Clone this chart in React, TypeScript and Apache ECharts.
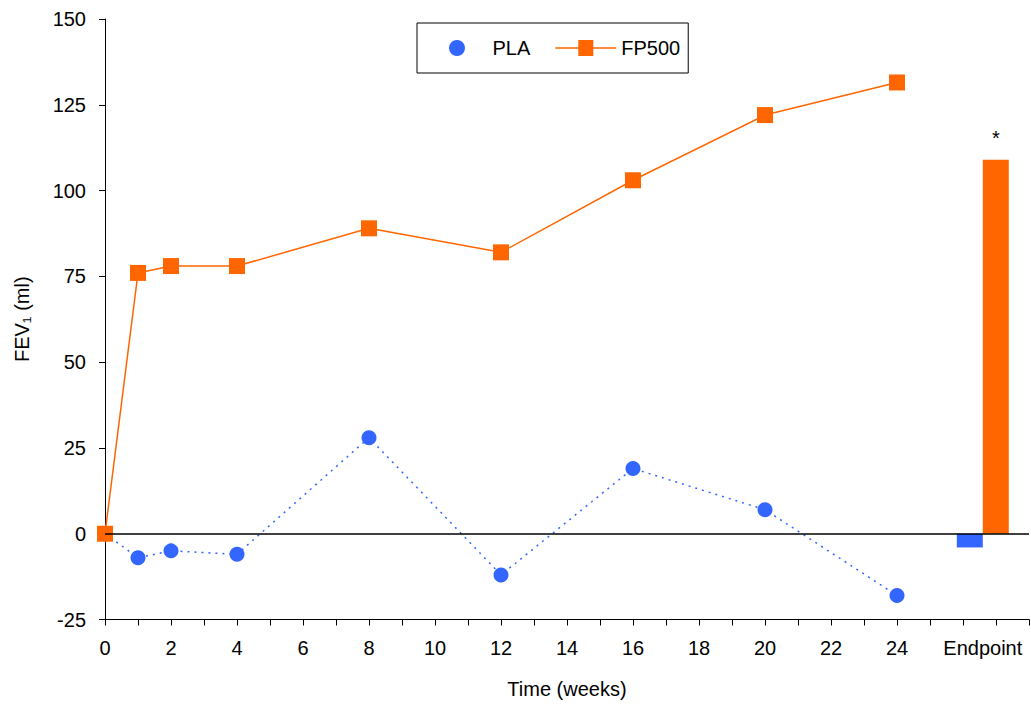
import React, { useEffect, useRef } from "react";
import * as echarts from "echarts";

const WEEKS = [0, 1, 2, 4, 8, 12, 16, 20, 24];
const PLA = [0, -7, -5, -6, 28, -12, 19, 7, -18];
const FP500 = [0, 76, 78, 78, 89, 82, 103, 122, 131.5];
const ENDPOINT_PLA = -4;
const ENDPOINT_FP500 = 109;
const ENDPOINT_MARK = "*";
const X_LABELS = [0, 2, 4, 6, 8, 10, 12, 14, 16, 18, 20, 22, 24];
const ENDPOINT_LABEL = "Endpoint";
const ENDPOINT_X = 26.6;

const BLUE = "#3366FF";
const ORANGE = "#FF6600";
const FONT = "'Liberation Sans', Arial, sans-serif";

export default function App() {
  const ref = useRef<HTMLDivElement>(null);
  useEffect(() => {
    if (!ref.current) return;
    const chart = echarts.init(ref.current, undefined, { renderer: "svg" });
    const fs = 20;
    chart.setOption({
      animation: false,
      backgroundColor: "#ffffff",
      textStyle: { fontFamily: FONT, color: "#000" },
      grid: { left: 105, right: 2, top: 19, bottom: 84.5, containLabel: false, outerBoundsMode: "none" },
      legend: {
        left: 417,
        top: 23,
        orient: "horizontal",
        data: [
          { name: "PLA", icon: "circle" },
          { name: "FP500", icon: "path://M0,7.25L61,7.25L61,8.75L0,8.75Z M23,0L38,0L38,16L23,16Z" },
        ],
        itemWidth: 61,
        itemHeight: 16,
        itemGap: 25,
        padding: [15, 8, 15, 32],
        borderColor: "#000",
        borderWidth: 1,
        textStyle: { fontFamily: FONT, fontSize: fs, color: "#000" },
        selectedMode: false,
      },
      xAxis: {
        type: "value",
        min: 0,
        max: 28,
        interval: 1,
        name: "Time (weeks)",
        nameLocation: "middle",
        nameGap: 59,
        nameTextStyle: { fontFamily: FONT, fontSize: fs, color: "#000" },
        axisLine: { show: true, onZero: false, lineStyle: { color: "#000", width: 1 } },
        axisTick: { show: true, length: 6, lineStyle: { color: "#000" } },
        splitLine: { show: false },
        axisLabel: {
          customValues: [...X_LABELS, ENDPOINT_X],
          formatter: (v: number) => (Math.abs(v - ENDPOINT_X) < 1e-6 ? ENDPOINT_LABEL : String(v)),
          fontFamily: FONT,
          fontSize: fs,
          color: "#000",
          margin: 18,
        },
      },
      yAxis: {
        type: "value",
        min: -25,
        max: 150,
        interval: 25,
        name: "FEV\u2081 (ml)",
        nameLocation: "middle",
        nameGap: 73,
        nameTextStyle: { fontFamily: FONT, fontSize: fs, color: "#000" },
        axisLine: { show: true, onZero: false, lineStyle: { color: "#000", width: 1 } },
        axisTick: { show: true, length: 6, lineStyle: { color: "#000" } },
        splitLine: { show: false },
        axisLabel: { fontFamily: FONT, fontSize: fs, color: "#000", margin: 19 },
      },
      series: [
        {
          name: "PLA endpoint",
          type: "bar",
          data: [[ENDPOINT_X, ENDPOINT_PLA]],
          barWidth: 26,
          barGap: "0%",
          itemStyle: { color: BLUE },
          z: 1,
        },
        {
          name: "FP500 endpoint",
          type: "bar",
          data: [[ENDPOINT_X, ENDPOINT_FP500]],
          barWidth: 26,
          barGap: "0%",
          itemStyle: { color: ORANGE },
          label: {
            show: true,
            position: "top",
            distance: 12,
            formatter: ENDPOINT_MARK,
            fontFamily: FONT,
            fontSize: 20,
            color: "#000",
          },
          z: 1,
        },
        {
          name: "PLA",
          type: "line",
          data: WEEKS.map((w, i) => [w, PLA[i]]),
          symbol: "circle",
          symbolSize: 15,
          itemStyle: { color: BLUE },
          lineStyle: { color: BLUE, width: 1.5, type: [2, 5] },
          markLine: {
            silent: true,
            symbol: "none",
            label: { show: false },
            lineStyle: { color: "#000", width: 1.5, type: "solid" },
            data: [{ yAxis: 0 }],
          },
          z: 3,
        },
        {
          name: "FP500",
          type: "line",
          data: WEEKS.map((w, i) => [w, FP500[i]]),
          symbol: "rect",
          symbolSize: 16,
          itemStyle: { color: ORANGE },
          lineStyle: { color: ORANGE, width: 1.5 },
          z: 4,
        },
      ],
    });
    return () => chart.dispose();
  }, []);
  return (
    <div
      ref={ref}
      style={{ position: "fixed", left: 0, top: 0, width: 1031, height: 704, background: "#fff" }}
    />
  );
}
